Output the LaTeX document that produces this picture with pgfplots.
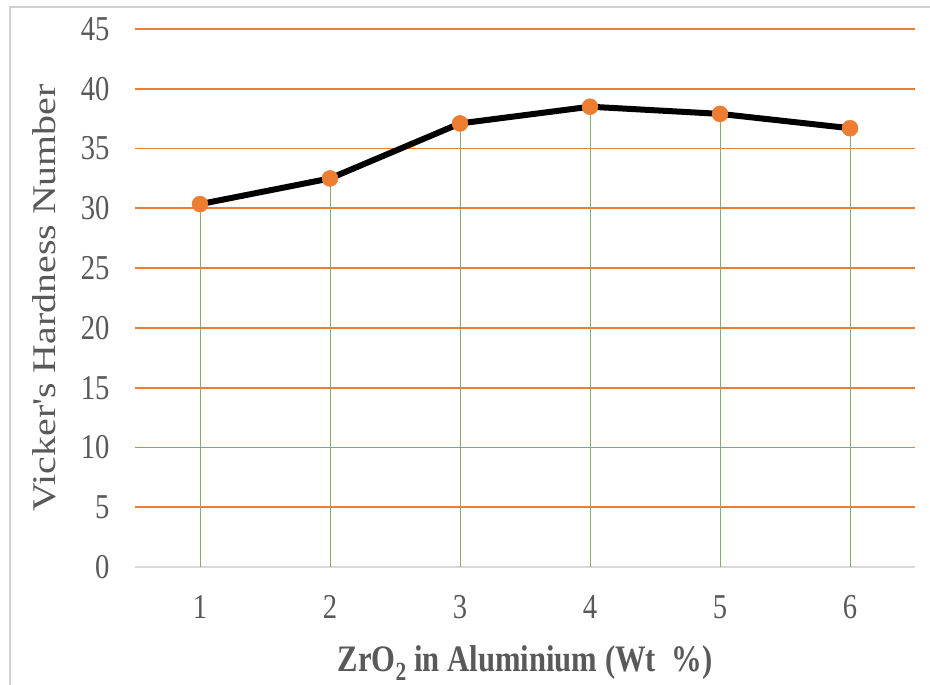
\documentclass[border=0pt]{standalone}
\usepackage{fontspec}
\setmainfont{Liberation Serif}[FakeStretch=0.82]
\newfontfamily\plainserif{Liberation Serif}
\usepackage{graphicx}
\usepackage{pgfplots}
\pgfplotsset{compat=1.18}
\definecolor{gridorange}{HTML}{ED7D31}
\definecolor{dropgreen}{HTML}{8BAA6E}
\definecolor{txtgray}{HTML}{595959}
\definecolor{axgray}{HTML}{D9D9D9}
\definecolor{framegray}{HTML}{D0D0D0}
\begin{document}
\begin{tikzpicture}
\path[use as bounding box] (0,0) rectangle (930bp,685bp);
\fill[white] (0,0) rectangle (930bp,685bp);
\draw[framegray, line width=2.5bp] (10bp,0) -- (10bp,678bp) -- (930bp,678bp);
\begin{axis}[
  scale only axis,
  width=780bp, height=538bp,
  at={(135bp,118bp)}, anchor=south west,
  xmin=0.5, xmax=6.5, ymin=0, ymax=45,
  xtick={1,2,3,4,5,6},
  ytick={0,5,...,45},
  major tick length=0pt,
  axis line style={draw=none},
  ymajorgrids,
  grid style={gridorange, line width=1.8bp},
  /pgf/number format/assume math mode=true,
  tick label style={txtgray, font=\fontsize{35}{41}\selectfont},
  yticklabel style={anchor=east, xshift=-22bp},
  xticklabel style={anchor=center, yshift=-40bp},
  xlabel={\textbf{ZrO\textsubscript{2} in Aluminium (Wt~~\%)}},
  xlabel style={txtgray, font=\fontsize{37.5}{44}\selectfont, at={(axis description cs:0.5,0)}, anchor=center, yshift=-96bp},
  ylabel={\scalebox{1}[0.83]{\plainserif Vicker\textquotesingle s Hardness Number}},
  ylabel style={txtgray, font=\fontsize{40}{48}\selectfont, at={(axis description cs:-0.1167,0.5)}, anchor=center},
  clip=false,
]
\draw[axgray, line width=1.6bp] (axis cs:0.5,0) -- (axis cs:6.5,0);
\addplot[ycomb, dropgreen, line width=1bp, no markers] coordinates {
  (1,30.35) (2,32.5) (3,37.1) (4,38.5) (5,37.9) (6,36.7)
};
\addplot[black, line width=6bp, mark=*, mark size=8bp,
  mark options={fill=gridorange, draw=gridorange, line width=0.5bp}] coordinates {
  (1,30.35) (2,32.5) (3,37.1) (4,38.5) (5,37.9) (6,36.7)
};
\end{axis}
\end{tikzpicture}
\end{document}
